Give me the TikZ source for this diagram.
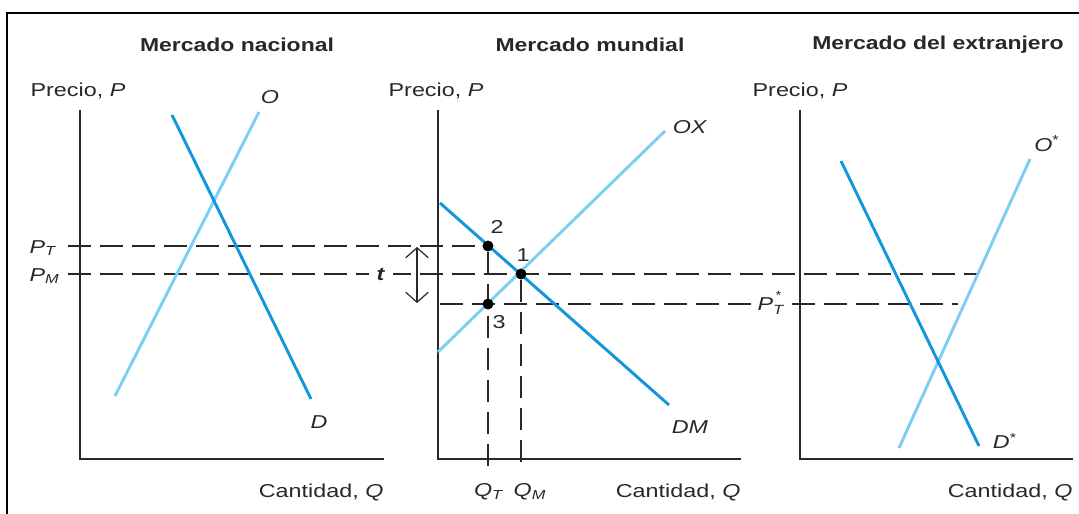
\documentclass[tikz,border=0pt]{standalone}
\usepackage{fontspec}
\setmainfont{Liberation Sans}
\usepackage{graphicx}
\usetikzlibrary{arrows.meta}
\definecolor{azulclaro}{RGB}{125,205,245}
\definecolor{azul}{RGB}{20,150,220}
\definecolor{tinta}{RGB}{40,40,40}
\newcommand{\ancho}[2][1.25]{\scalebox{#1}[1]{#2}}
\tikzset{
  marco/.style={line width=1.8pt, black},
  eje/.style={line width=2pt, tinta},
  oferta/.style={line width=2.2pt, azulclaro},
  demanda/.style={line width=2.2pt, azul},
  guia/.style={line width=0.8pt, tinta, dash pattern=on 17pt off 7pt},
  texto/.style={font=\fontsize{14}{16}\selectfont, text=tinta, inner sep=1pt},
  titulo/.style={font=\fontsize{14}{16}\selectfont\bfseries, text=tinta},
  punto/.style={circle, fill=black, inner sep=0pt, minimum size=8pt},
}
\begin{document}
\begin{tikzpicture}[x=0.75pt,y=-0.75pt]
  \useasboundingbox (0,0) rectangle (1079,514);
  % Marco
  \draw[marco] (7,514) |- (1079,13);
  % Titulos
  \node[titulo] (tnac) at (237,45) {\ancho[1.23]{Mercado nacional}};
  \node[titulo] (tmun) at (590,45) {\ancho[1.23]{Mercado mundial}};
  \node[titulo] (text) at (938,45) {\ancho[1.23]{Mercado del extranjero}};
  % Ejes coordenados
  \draw[eje] (80,110) |- (384,459);
  \draw[eje] (438,110) |- (741,459);
  \draw[eje] (800,110) |- (1073,459);
  \node[texto] (pnac) at (78,91) {\ancho{Precio, \textit{P}}};
  \node[texto] (pmun) at (436,91) {\ancho{Precio, \textit{P}}};
  \node[texto] (pext) at (800,91) {\ancho{Precio, \textit{P}}};
  \node[texto,anchor=east] (qnac) at (385,492) {\ancho{Cantidad, \textit{Q}}};
  \node[texto,anchor=east] (qmun) at (742,492) {\ancho{Cantidad, \textit{Q}}};
  \node[texto,anchor=east] (qext) at (1074,492) {\ancho{Cantidad, \textit{Q}}};
  % Puntos de equilibrio
  \node[punto] (p1) at (521,274) {};
  \node[punto] (p2) at (488,246) {};
  \node[punto] (p3) at (488,304) {};
  \node[texto] (n1) at (523,255) {\ancho{1}};
  \node[texto] (n2) at (497,227) {\ancho{2}};
  \node[texto] (n3) at (499,322) {\ancho{3}};
  % Lineas de precios y cantidades
  \coordinate (ipt) at (68,246);
  \coordinate (ipm) at (68,274);
  \coordinate (fpm) at (978,274);
  \coordinate (ipe) at (440,304);
  \coordinate (fpe) at (958,304);
  \coordinate (qt) at (488,468);
  \coordinate (qm) at (521,468);
  \draw[guia] (ipt) -- (p2);
  \draw[guia] (ipm) -- (fpm);
  \draw[guia] (ipe) -- (fpe);
  \draw[guia] (p2) -- (qt);
  \draw[guia] (p1) -- (qm);
  \node[texto,anchor=base west] (lpt) at (28,253) {\ancho{\textit{P}\textsubscript{\textit{T}}}};
  \node[texto,anchor=base west] (lpm) at (28,281) {\ancho{\textit{P}\textsubscript{\textit{M}}}};
  \node[texto,anchor=base west,fill=white,inner xsep=4pt] (lpe) at (752,310)
    {\ancho{\textit{P}\rlap{\raisebox{1.05ex}{\fontsize{9}{9}\selectfont\,*}}\raisebox{-0.5ex}{\fontsize{10}{10}\selectfont\textit{T}}}};
  \node[texto] (lqt) at (489,492) {\ancho{\textit{Q}\textsubscript{\textit{T}}}};
  \node[texto] (lqm) at (530,492) {\ancho{\textit{Q}\textsubscript{\textit{M}}}};
  % Arancel
  \node[texto,fill=white,inner xsep=6pt] (t) at (381,274) {\ancho{\textbf{\textit{t}}}};
  \coordinate (ta) at (417,247);
  \coordinate (tb) at (417,303);
  \draw[line width=0.9pt, tinta, {Straight Barb[length=7.5pt,width=17pt]}-{Straight Barb[length=7.5pt,width=17pt]}] (ta) -- (tb);
  % Curvas del mercado nacional
  \draw[oferta] (115,396) -- (259,112);
  \draw[demanda] (172,115) -- (311,399);
  \node[texto] (lo) at (270,97) {\ancho{\textit{O}}};
  \node[texto] (ld) at (319,422) {\ancho{\textit{D}}};
  % Curvas del mercado mundial
  \draw[oferta] (438,352) -- (665,131);
  \draw[demanda] (440,203) -- (669,405);
  \node[texto] (lox) at (690,127) {\ancho{\textit{OX}}};
  \node[texto] (ldm) at (690,427) {\ancho{\textit{DM}}};
  \node[punto] at (p1) {};
  \node[punto] at (p2) {};
  \node[punto] at (p3) {};
  % Curvas del mercado extranjero
  \draw[oferta] (899,448) -- (1030,159);
  \draw[demanda] (841,161) -- (979,446);
  \node[texto] (loe) at (1047,144) {\ancho{\textit{O}\textsuperscript{*}}};
  \node[texto] (lde) at (1005,441) {\ancho{\textit{D}\textsuperscript{*}}};
\end{tikzpicture}
\end{document}
